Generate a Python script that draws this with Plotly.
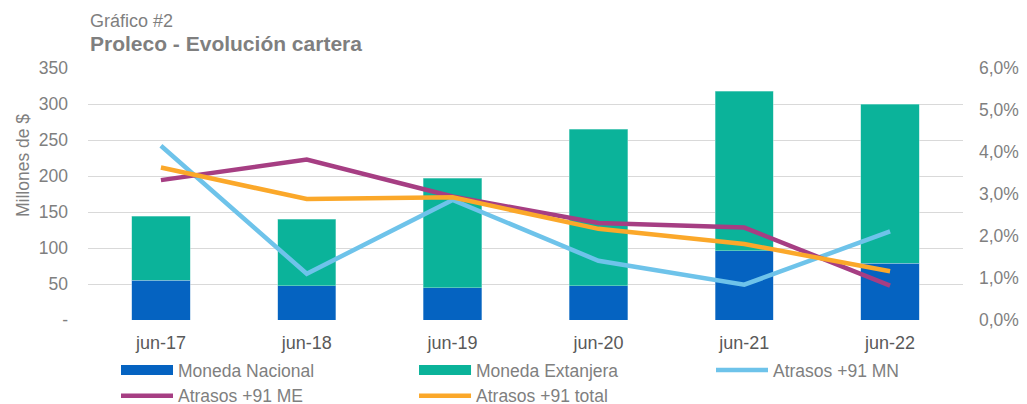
import plotly.graph_objects as go

categories = ["jun-17", "jun-18", "jun-19", "jun-20", "jun-21", "jun-22"]
moneda_nacional = [55.5, 47.5, 45, 47.5, 96, 78.5]
cartera_total = [144, 140, 197, 265, 318, 299.5]
moneda_extranjera = [t - n for t, n in zip(cartera_total, moneda_nacional)]
atrasos_mn = [0.0415, 0.0110, 0.0286, 0.0141, 0.0084, 0.0211]
atrasos_me = [0.0333, 0.0382, 0.0294, 0.0231, 0.0220, 0.0082]
atrasos_total = [0.0363, 0.0288, 0.0292, 0.0217, 0.0181, 0.0116]

left_ticks = [0, 50, 100, 150, 200, 250, 300, 350]
left_ticktext = ["-", "50", "100", "150", "200", "250", "300", "350"]
right_ticks = [0, 0.01, 0.02, 0.03, 0.04, 0.05, 0.06]

grey = "#7F7F7F"
font_family = "Liberation Sans, Arial, sans-serif"
c_mn, c_me = "#0563C1", "#0BB39A"

fig = go.Figure()
fig.add_trace(go.Bar(x=categories, y=moneda_nacional, name="Moneda Nacional", legendgroup="mn",
                     showlegend=False,
                     marker=dict(color=c_mn, line=dict(color="#9DC3E6", width=0.5)), width=0.4))
fig.add_trace(go.Bar(x=categories, y=moneda_extranjera, name="Moneda Extanjera", legendgroup="me",
                     showlegend=False,
                     marker=dict(color=c_me, line=dict(color="#9DE0D6", width=0.5)), width=0.4))
# legend-only entries giving the bars a wide rectangular key, as in the reference
fig.add_trace(go.Scatter(x=[None], y=[None], name="Moneda Nacional", legendgroup="mn", legend="legend",
                         mode="lines", line=dict(color=c_mn, width=10), hoverinfo="skip"))
fig.add_trace(go.Scatter(x=[None], y=[None], name="Moneda Extanjera", legendgroup="me", legend="legend2",
                         mode="lines", line=dict(color=c_me, width=10), hoverinfo="skip"))
fig.add_trace(go.Scatter(x=categories, y=atrasos_mn, name="Atrasos +91 MN", yaxis="y2", legend="legend3",
                         mode="lines", line=dict(color="#6EC3EA", width=4.5)))
fig.add_trace(go.Scatter(x=categories, y=atrasos_me, name="Atrasos +91 ME", yaxis="y2", legend="legend",
                         mode="lines", line=dict(color="#A63E83", width=4.5)))
fig.add_trace(go.Scatter(x=categories, y=atrasos_total, name="Atrasos +91 total", yaxis="y2", legend="legend2",
                         mode="lines", line=dict(color="#FBA82A", width=4.5)))

legend_common = dict(orientation="v", xanchor="left", y=-0.127, yanchor="top",
                     traceorder="normal", font=dict(size=17.5, color=grey),
                     itemwidth=52, tracegroupgap=0, bgcolor="rgba(0,0,0,0)")

fig.update_layout(
    width=1019, height=396,
    barmode="stack",
    separators=",.",
    paper_bgcolor="white", plot_bgcolor="white",
    margin=dict(l=80, r=64, t=60, b=84, autoexpand=False),
    font=dict(family=font_family, size=17.5, color=grey),
    xaxis=dict(showgrid=False, showline=False, ticks="", ticklabelstandoff=10,
               tickfont=dict(size=18, color="#595959")),
    yaxis=dict(range=[0, 350], tickvals=left_ticks, ticktext=left_ticktext,
               showgrid=True, gridcolor="#D9D9D9", gridwidth=1.3, zeroline=False,
               ticklabelstandoff=19, tickfont=dict(size=17.5, color=grey), ticklen=0),
    yaxis2=dict(range=[0, 0.06], tickvals=right_ticks, tickformat=".1%", overlaying="y",
                side="right", showgrid=False, zeroline=False, ticklabelstandoff=15,
                tickfont=dict(size=17.5, color=grey)),
    legend=dict(x=0.032, **legend_common),
    legend2=dict(x=0.3726, **legend_common),
    legend3=dict(x=0.712, **legend_common),
    showlegend=True,
)

fig.add_annotation(text="Gráfico #2", xref="paper", yref="paper", x=0, y=1.1865,
                   xanchor="left", yanchor="middle", showarrow=False,
                   font=dict(size=18, color=grey, family=font_family))
fig.add_annotation(text="<b>Proleco - Evolución cartera</b>", xref="paper", yref="paper", x=0, y=1.099,
                   xanchor="left", yanchor="middle", showarrow=False,
                   font=dict(size=21, color=grey, family=font_family))
fig.add_annotation(text="Millones de $", xref="paper", yref="paper", x=-0.0743, y=0.615,
                   xanchor="center", yanchor="middle", textangle=-90, showarrow=False,
                   font=dict(size=17.5, color=grey, family=font_family))

fig.write_html("out.html")
